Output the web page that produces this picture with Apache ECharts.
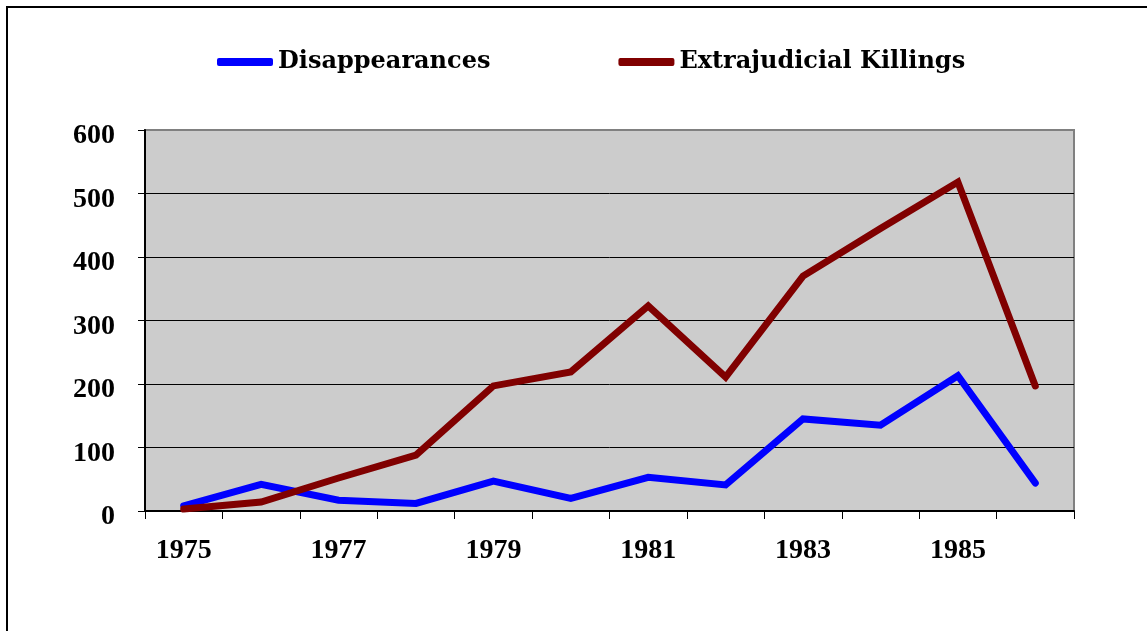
<!DOCTYPE html>
<html>
<head>
<meta charset="utf-8">
<script src="https://cdn.jsdelivr.net/npm/echarts@6/dist/echarts.min.js"></script>
<style>
    html, body { margin: 0; padding: 0; background: #fff; }
    #chart { width: 1147px; height: 631px; }
</style>
</head>
<body>
<div id="chart"></div>
<script>
// 数据
const years = ['1975', '1976', '1977', '1978', '1979', '1980', '1981', '1982', '1983', '1984', '1985', '1986'];
const disappearances = [8, 42, 17, 12, 47, 20, 53, 41, 145, 135, 213, 44];
const killings = [3, 14, 52, 88, 197, 219, 323, 211, 370, 445, 518, 197];

const labelFont = {
    color: '#000',
    fontFamily: '"Liberation Serif", serif',
    fontWeight: 'bold',
    fontSize: 28
};

document.addEventListener('DOMContentLoaded', () => {
    const chart = echarts.init(document.getElementById('chart'));

    const option = {
        animation: false,
        backgroundColor: '#fff',
        graphic: [{
            type: 'rect',
            shape: { x: 7, y: 7, width: 1300, height: 800 },
            style: { fill: 'none', stroke: '#000', lineWidth: 2 },
            silent: true
        }],
        legend: {
            left: 212,
            top: 45,
            itemWidth: 56,
            itemHeight: 8,
            itemGap: 128,
            icon: 'roundRect',
            textStyle: {
                color: '#000',
                fontFamily: '"DejaVu Serif", serif',
                fontWeight: 'bold',
                fontSize: 24
            },
            data: ['Disappearances', 'Extrajudicial Killings']
        },
        grid: {
            left: 145,
            right: 73,
            top: 130,
            bottom: 120,
            show: true,
            backgroundColor: '#cccccc',
            borderColor: '#808080',
            borderWidth: 2
        },
        xAxis: {
            type: 'category',
            data: years,
            boundaryGap: true,
            axisLine: { lineStyle: { color: '#000', width: 2 } },
            axisTick: { show: true, interval: 0, length: 8, lineStyle: { color: '#000', width: 1 } },
            axisLabel: Object.assign({ interval: 1, margin: 26 }, labelFont),
            splitLine: { show: false }
        },
        yAxis: {
            type: 'value',
            min: 0,
            max: 600,
            interval: 100,
            axisLine: { show: true, lineStyle: { color: '#000', width: 2 } },
            axisTick: { show: true, length: 7, lineStyle: { color: '#000', width: 1 } },
            axisLabel: Object.assign({ margin: 30, verticalAlign: 'top', lineHeight: 12 }, labelFont),
            splitLine: { show: true, showMaxLine: false, lineStyle: { color: '#000', width: 1 } }
        },
        series: [
            {
                name: 'Disappearances',
                type: 'line',
                data: disappearances,
                symbol: 'none',
                itemStyle: { color: '#0000ff' },
                lineStyle: { color: '#0000ff', width: 7, cap: 'round', join: 'miter' },
                z: 3
            },
            {
                name: 'Extrajudicial Killings',
                type: 'line',
                data: killings,
                symbol: 'none',
                itemStyle: { color: '#800000' },
                lineStyle: { color: '#800000', width: 7, cap: 'round', join: 'miter' },
                z: 4
            }
        ]
    };

    chart.setOption(option);
    window.addEventListener('resize', () => chart.resize());
});
</script>
</body>
</html>
